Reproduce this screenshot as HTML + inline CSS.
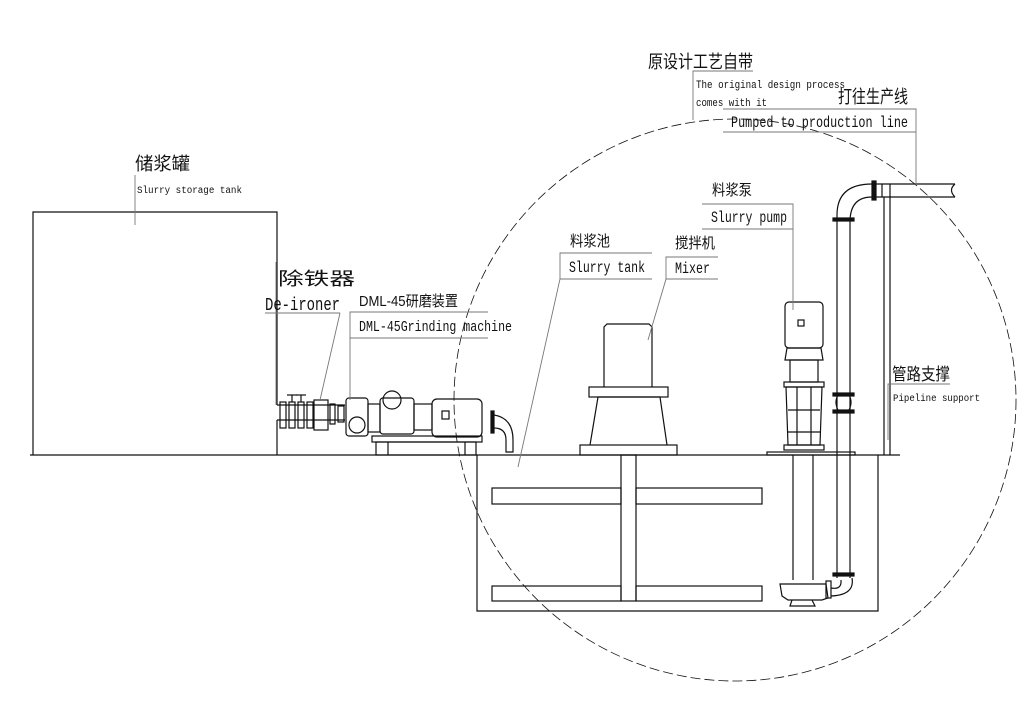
<!DOCTYPE html>
<html><head><meta charset="utf-8"><style>
html,body{margin:0;padding:0;background:#fff;}
svg{display:block}
text{font-family:"Liberation Sans","Noto Sans CJK SC",sans-serif;fill:#111}
.m{font-family:"Liberation Mono","Noto Sans CJK SC",monospace}
</style></head><body>
<svg width="1024" height="724" viewBox="0 0 1024 724" xmlns="http://www.w3.org/2000/svg">
<g fill="none" stroke="#111" stroke-width="1.2">
<!-- dashed circle -->
<circle cx="735" cy="400" r="281" stroke-dasharray="10,4" stroke-width="0.8"/>
<!-- ground -->
<line x1="30" y1="455" x2="900" y2="455"/>
<!-- storage tank -->
<polyline points="33,455 33,212 277,212 277,405"/>
<line x1="277" y1="420" x2="277" y2="455"/>
<!-- slurry tank -->
<polyline points="477,455 477,611 878,611 878,455"/>
<rect x="492" y="488" width="129" height="16"/><rect x="636" y="488" width="126" height="16"/>
<rect x="492" y="586" width="129" height="15"/><rect x="636" y="586" width="126" height="15"/>
<rect x="621" y="455" width="15" height="146"/>
<!-- mixer -->
<rect x="580" y="445" width="97" height="10"/>
<polyline points="590,445 598,397 660,397 667,445"/>
<rect x="589" y="387" width="79" height="10"/>
<polyline points="604,387 604,327 607,324 649,324 652,327 652,387"/>
<!-- piping/de-ironer -->
<line x1="277" y1="405" x2="345" y2="405"/><line x1="277" y1="420" x2="345" y2="420"/>
<rect x="280" y="402" width="6" height="26"/><rect x="289" y="402" width="6" height="26"/><rect x="298" y="402" width="6" height="26"/><rect x="307" y="402" width="6" height="26"/>
<line x1="292" y1="395" x2="292" y2="402"/><line x1="287" y1="395" x2="297" y2="395"/>
<line x1="301" y1="395" x2="301" y2="402"/><line x1="296" y1="395" x2="306" y2="395"/>
<rect x="314" y="400" width="14" height="30"/>
<rect x="330" y="404" width="5" height="20"/><rect x="338" y="406" width="6" height="16"/>
<!-- grinding machine -->
<rect x="346" y="398" width="22" height="38" rx="3"/>
<circle cx="357" cy="425" r="8"/>
<rect x="368" y="404" width="12" height="28"/>
<rect x="380" y="398" width="34" height="36" rx="3"/>
<circle cx="392" cy="400" r="9"/>
<rect x="414" y="404" width="18" height="26"/>
<rect x="432" y="399" width="50" height="38" rx="5"/>
<rect x="442" y="411" width="7" height="8"/>
<rect x="372" y="436" width="110" height="6"/>
<rect x="376" y="442" width="100" height="13"/>
<line x1="388" y1="442" x2="388" y2="455"/><line x1="465" y1="442" x2="465" y2="455"/>
<rect x="491" y="411" width="3" height="22" fill="#111"/>
<path d="M494,415 Q513,418 513,440 L513,452 L506,452 L506,440 Q506,428 494,428"/>
<!-- slurry pump -->
<rect x="785" y="302" width="38" height="46" rx="4"/>
<rect x="798" y="320" width="6" height="6"/>
<path d="M787,348 L821,348 L823,360 L785,360 Z"/>
<rect x="790" y="360" width="28" height="22"/>
<rect x="784" y="382" width="40" height="5"/>
<path d="M786,387 L822,387 L820,445 L788,445 Z"/>
<line x1="797" y1="387" x2="797" y2="445"/><line x1="811" y1="387" x2="811" y2="445"/>
<line x1="788" y1="410" x2="820" y2="410"/><line x1="788" y1="432" x2="820" y2="432"/>
<rect x="784" y="445" width="40" height="5"/>
<rect x="767" y="452" width="88" height="3"/>
<line x1="793" y1="455" x2="793" y2="580"/><line x1="813" y1="455" x2="813" y2="580"/>
<path d="M780,584 L826,584 L828,598 L822,600 L788,600 L782,596 Z"/>
<path d="M792,600 L790,606 L815,606 L812,600"/>
<rect x="826" y="581" width="5" height="17"/>
<!-- discharge pipe -->
<line x1="837" y1="215" x2="837" y2="578"/><line x1="850" y1="222" x2="850" y2="578"/>
<path d="M831,588 Q842,590 841,580"/><path d="M831,596 Q855,595 852,578"/>
<rect x="833" y="218" width="21" height="3" fill="#111"/>
<rect x="833" y="393" width="21" height="3" fill="#111"/>
<rect x="833" y="410" width="21" height="3" fill="#111"/>
<rect x="833" y="573" width="21" height="3" fill="#111"/>
<path d="M838,395 Q834,402 838,410 M849,395 Q853,402 849,410"/>
<path d="M837,215 Q837,184 872,184"/><path d="M850,222 Q850,197 872,197"/>
<rect x="872" y="181" width="4" height="19" fill="#111"/>
<line x1="876" y1="184" x2="955" y2="184"/><line x1="876" y1="197" x2="955" y2="197"/>
<path d="M955,184 Q948,190 955,197"/>
<line x1="882" y1="184" x2="882" y2="197"/><line x1="890" y1="184" x2="890" y2="197"/>
<line x1="884" y1="197" x2="884" y2="455"/><line x1="890" y1="197" x2="890" y2="455"/>
</g>
<!-- leader lines -->
<g fill="none" stroke="#777" stroke-width="0.9">
<polyline points="693,120 693,71 753,71"/>
<polyline points="723,109 916,109 916,185"/><line x1="723" y1="132" x2="916" y2="132"/>
<polyline points="702,204 793,204 793,310"/><line x1="702" y1="229" x2="793" y2="229"/>
<polyline points="652,253 560,253 560,279 518,467"/><line x1="560" y1="279" x2="652" y2="279"/>
<polyline points="718,257 666,257 666,279 648,340"/><line x1="666" y1="279" x2="718" y2="279"/>
<line x1="135" y1="175" x2="135" y2="225"/>
<polyline points="276,262 276,405"/><line x1="265" y1="313" x2="340" y2="313"/><line x1="340" y1="313" x2="320" y2="400"/>
<polyline points="488,312 350,312 350,400"/><line x1="350" y1="338" x2="488" y2="338"/>
<polyline points="950,384 888,384 888,440"/>
</g>
<!-- text -->
<text x="648" y="68" font-size="18" textLength="105" lengthAdjust="spacingAndGlyphs">原设计工艺自带</text>
<text class="m" x="696" y="88" font-size="11" textLength="149" lengthAdjust="spacingAndGlyphs">The original design process</text>
<text class="m" x="696" y="106" font-size="11" textLength="71" lengthAdjust="spacingAndGlyphs">comes with it</text>
<text x="838" y="103" font-size="18" textLength="70" lengthAdjust="spacingAndGlyphs">打往生产线</text>
<text class="m" x="731" y="127" font-size="16" textLength="177" lengthAdjust="spacingAndGlyphs">Pumped to production line</text>
<text x="712" y="195" font-size="15" textLength="40" lengthAdjust="spacingAndGlyphs">料浆泵</text>
<text class="m" x="711" y="222" font-size="16" textLength="76" lengthAdjust="spacingAndGlyphs">Slurry pump</text>
<text x="570" y="246" font-size="15" textLength="40" lengthAdjust="spacingAndGlyphs">料浆池</text>
<text class="m" x="569" y="272" font-size="16" textLength="76" lengthAdjust="spacingAndGlyphs">Slurry tank</text>
<text x="675" y="248" font-size="15" textLength="40" lengthAdjust="spacingAndGlyphs">搅拌机</text>
<text class="m" x="675" y="273" font-size="16" textLength="35" lengthAdjust="spacingAndGlyphs">Mixer</text>
<text x="135" y="170" font-size="18" textLength="55" lengthAdjust="spacingAndGlyphs">储浆罐</text>
<text class="m" x="137" y="193" font-size="10" textLength="105" lengthAdjust="spacingAndGlyphs">Slurry storage tank</text>
<text x="278" y="285" font-size="18" textLength="77" lengthAdjust="spacingAndGlyphs">除铁器</text>
<text class="m" x="265" y="310" font-size="18" textLength="75" lengthAdjust="spacingAndGlyphs">De-ironer</text>
<text x="359" y="306" font-size="15" textLength="99" lengthAdjust="spacingAndGlyphs">DML-45研磨装置</text>
<text class="m" x="359" y="331" font-size="15" textLength="153" lengthAdjust="spacingAndGlyphs">DML-45Grinding machine</text>
<text x="892" y="380" font-size="17" textLength="58" lengthAdjust="spacingAndGlyphs">管路支撑</text>
<text class="m" x="893" y="401" font-size="10" textLength="87" lengthAdjust="spacingAndGlyphs">Pipeline support</text>
</svg>
</body></html>
